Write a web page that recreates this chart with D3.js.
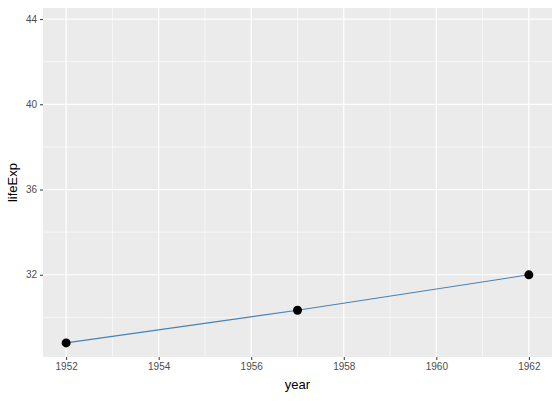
<!DOCTYPE html><html><head><script src="https://cdn.jsdelivr.net/npm/d3@7"></script>
<style>body{margin:0}text{font-family:"Liberation Sans",Arial,sans-serif}</style></head><body>
<script>
const years=[1952,1957,1962];
const lifeExp=[28.801,30.332,31.997];
const xTicks=[1952,1954,1956,1958,1960,1962];
const yTicks=[32,36,40,44];
const W=560,H=401,L=43,R=552,T=8,B=357;
const svg=d3.select("body").append("svg").attr("width",W).attr("height",H);
svg.append("rect").attr("width",W).attr("height",H).attr("fill","#fff");
const x=d3.scaleLinear().domain([1951.5,1962.5]).range([L,R]);
const y=d3.scaleLinear().domain([28.14,44.52]).range([B,T]);
svg.append("rect").attr("x",L).attr("y",T).attr("width",R-L).attr("height",B-T).attr("fill","#ebebeb");
const g=svg.append("g");
d3.range(1953,1962,2).forEach(v=>g.append("line").attr("x1",x(v)).attr("x2",x(v)).attr("y1",T).attr("y2",B).attr("stroke","#fff").attr("stroke-width",0.6));
[30,34,38,42].forEach(v=>g.append("line").attr("y1",y(v)).attr("y2",y(v)).attr("x1",L).attr("x2",R).attr("stroke","#fff").attr("stroke-width",0.6));
xTicks.forEach(v=>g.append("line").attr("x1",x(v)).attr("x2",x(v)).attr("y1",T).attr("y2",B).attr("stroke","#fff").attr("stroke-width",1.2));
yTicks.forEach(v=>g.append("line").attr("y1",y(v)).attr("y2",y(v)).attr("x1",L).attr("x2",R).attr("stroke","#fff").attr("stroke-width",1.2));
const xa=svg.append("g").attr("transform",`translate(0,${B})`).call(d3.axisBottom(x).tickValues(xTicks).tickFormat(d3.format("d")).tickSize(3).tickPadding(3));
const ya=svg.append("g").attr("transform",`translate(${L},0)`).call(d3.axisLeft(y).tickValues(yTicks).tickSize(3).tickPadding(3));
[xa,ya].forEach(a=>{a.select(".domain").remove();a.selectAll("line").attr("stroke","#333");a.selectAll("text").attr("fill","#4d4d4d").style("font-size","10px");});
const pts=years.map((d,i)=>[d,lifeExp[i]]);
svg.append("path").attr("d",d3.line().x(d=>x(d[0])).y(d=>y(d[1]))(pts)).attr("fill","none").attr("stroke","steelblue").attr("stroke-width",1.1);
svg.selectAll("circle").data(pts).join("circle").attr("cx",d=>x(d[0])).attr("cy",d=>y(d[1])).attr("r",4.5).attr("fill","#000");
svg.append("text").attr("x",(L+R)/2).attr("y",389).attr("text-anchor","middle").style("font-size","13px").text("year");
svg.append("text").attr("transform",`translate(17,${(T+B)/2}) rotate(-90)`).attr("text-anchor","middle").style("font-size","13px").text("lifeExp");
</script></body></html>
